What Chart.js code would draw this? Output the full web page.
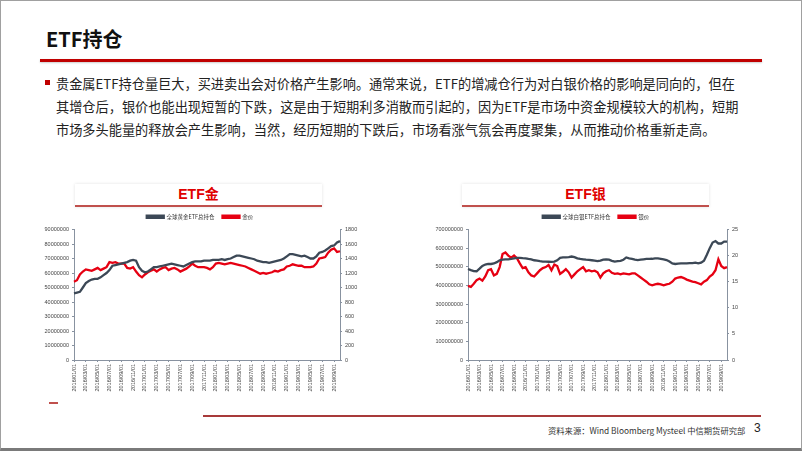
<!DOCTYPE html>
<html>
<head>
<meta charset="utf-8">
<script src="https://cdn.jsdelivr.net/npm/chart.js@4.4.0/dist/chart.umd.min.js"></script>
<style>
  body { margin: 0; width: 802px; height: 451px; position: relative; overflow: hidden; background: #fff;
         font-family: "Noto Sans CJK SC", sans-serif; }
  .frame { position: absolute; left: 0; top: 0; width: 800px; height: 447px;
           border: 1px solid #a0a0a0; border-bottom: 3px solid #7a7a7a; }
  .title { position: absolute; left: 46px; top: 24px; font-size: 20px; font-weight: bold; color: #111; }
  .titleLine { position: absolute; left: 40px; top: 59px; width: 722px; height: 3px; background: #c00000;
               box-shadow: 0 1px 2px rgba(0,0,0,0.2); }
  .bullet { position: absolute; left: 45px; top: 80px; width: 5px; height: 5px; background: #c00000; }
  .para { position: absolute; left: 56px; top: 72px; font-size: 13.2px; line-height: 23px; color: #222; white-space: nowrap; }
  .sub { position: absolute; top: 184px; width: 247px; height: 21px; border-bottom: 2px solid #c0504d;
         box-shadow: 0 0 3px rgba(0,0,0,0.12); text-align: center; font-family: "Liberation Sans", "Noto Sans CJK SC", sans-serif;
         font-weight: bold; font-size: 14px; line-height: 21px; color: #e00000; }
  .dash { position: absolute; left: 49px; top: 402px; width: 9px; height: 2px; background: #c0504d; }
  .footLine { position: absolute; left: 203px; top: 415px; width: 558px; height: 2px; background: #a83a3a; }
  .src { position: absolute; left: 548px; top: 424px; font-size: 8.3px; color: #333; white-space: nowrap; }
  .page { position: absolute; left: 754px; top: 421px; font-size: 12px; color: #222; font-family: "Liberation Sans", sans-serif; }
  canvas { position: absolute; }
</style>
</head>
<body>
<div class="frame"></div>
<div class="title">ETF持仓</div>
<div class="titleLine"></div>
<div class="bullet"></div>
<div class="para">
  <div>贵金属ETF持仓量巨大，买进卖出会对价格产生影响。通常来说，ETF的增减仓行为对白银价格的影响是同向的，但在</div>
  <div>其增仓后，银价也能出现短暂的下跌，这是由于短期利多消散而引起的，因为ETF是市场中资金规模较大的机构，短期</div>
  <div>市场多头能量的释放会产生影响，当然，经历短期的下跌后，市场看涨气氛会再度聚集，从而推动价格重新走高。</div>
</div>
<div class="sub" style="left:75px">ETF金</div>
<div class="sub" style="left:462px">ETF银</div>
<canvas id="goldChart" width="360" height="194" style="left:20px; top:211px"></canvas>
<canvas id="silverChart" width="362" height="194" style="left:415px; top:211px"></canvas>
<div class="dash"></div>
<div class="footLine"></div>
<div class="src">资料来源：Wind Bloomberg Mysteel 中信期货研究部</div>
<div class="page">3</div>

<script>
// semi-monthly dates, 2016/01/01 .. 2019/10/01
let labels = [];
for (let y = 2016; y <= 2019; y++) {
  for (let m = 1; m <= 12; m++) {
    if (y === 2019 && m > 10) break;
    let mm = (m < 10 ? "0" : "") + m;
    labels.push(y + "/" + mm + "/01");
    if (!(y === 2019 && m === 10)) labels.push(y + "/" + mm + "/16");
  }
}

// 全球黄金ETF总持仓 (oz)
let goldEtf = [
  46e6, 46.5e6, 47e6, 50e6, 53e6, 54.5e6, 55.5e6, 56e6, 56e6, 57e6, 58.5e6, 60e6,
  62e6, 65e6, 65.5e6, 66e6, 66.5e6, 67e6, 67.5e6, 68.5e6, 69e6, 68.5e6, 64e6, 61.5e6,
  60.5e6, 61e6, 62.5e6, 64e6, 64e6, 64.5e6, 65e6, 65.5e6, 66e6, 66.5e6, 66e6, 65.5e6,
  65e6, 64.5e6, 65.5e6, 66.5e6, 67.5e6, 68e6, 68e6, 68e6, 68.5e6, 68.5e6, 68.5e6, 69e6,
  69e6, 69e6, 69.5e6, 69e6, 69.5e6, 70e6, 71e6, 72e6, 72e6, 71.5e6, 71e6, 70.5e6,
  70e6, 69.5e6, 68.5e6, 68e6, 67.5e6, 67.5e6, 67e6, 67.5e6, 68e6, 68.5e6, 69e6, 70e6,
  71.5e6, 73e6, 73e6, 72.5e6, 72e6, 71.5e6, 72e6, 71e6, 70e6, 70e6, 71.5e6, 74e6,
  74.5e6, 75.5e6, 77e6, 78.5e6, 79e6, 81e6, 82e6
];
// 金价 (USD/oz)
let goldPrice = [
  1080, 1100, 1180, 1220, 1250, 1240, 1230, 1250, 1270, 1240, 1260, 1280,
  1350, 1340, 1350, 1330, 1330, 1330, 1270, 1260, 1280, 1220, 1170, 1140,
  1180, 1210, 1230, 1250, 1220, 1250, 1270, 1280, 1240, 1260, 1270, 1250,
  1220, 1240, 1260, 1290, 1330, 1300, 1280, 1280, 1280, 1270, 1250, 1280,
  1330, 1340, 1330, 1320, 1330, 1340, 1330, 1320, 1310, 1300, 1290, 1270,
  1250, 1230, 1210, 1190, 1200, 1190, 1200, 1210, 1230, 1220, 1240, 1250,
  1290, 1300, 1320, 1310, 1300, 1300, 1280, 1280, 1280, 1290, 1330, 1400,
  1410, 1420, 1480, 1520, 1540, 1490, 1500
];
// 全球白银ETF总持仓 (oz)
let silverEtf = [
  488e6, 482e6, 477e6, 476e6, 490e6, 505e6, 512e6, 515e6, 515e6, 518e6, 525e6, 535e6,
  538e6, 540e6, 540e6, 542e6, 545e6, 548e6, 548e6, 546e6, 545e6, 542e6, 540e6, 535e6,
  533e6, 530e6, 528e6, 528e6, 527e6, 526e6, 528e6, 535e6, 548e6, 550e6, 550e6, 552e6,
  555e6, 552e6, 545e6, 542e6, 540e6, 538e6, 537e6, 535e6, 533e6, 530e6, 533e6, 538e6,
  540e6, 538e6, 532e6, 528e6, 530e6, 532e6, 538e6, 550e6, 545e6, 542e6, 538e6, 536e6,
  538e6, 540e6, 542e6, 542e6, 543e6, 545e6, 545e6, 543e6, 540e6, 536e6, 528e6, 518e6,
  515e6, 517e6, 518e6, 518e6, 518e6, 520e6, 520e6, 522e6, 518e6, 522e6, 532e6, 565e6,
  600e6, 630e6, 638e6, 625e6, 625e6, 635e6, 635e6
];
// 银价 (USD/oz)
let silverPrice = [
  14.2, 14.0, 14.6, 15.3, 15.6, 15.2, 16.0, 17.2, 17.4, 16.2, 16.5, 17.8,
  20.3, 20.6, 20.0, 19.6, 20.0, 19.5, 18.5, 17.6, 17.8, 16.8, 16.2, 16.0,
  16.6, 17.2, 17.6, 17.8, 18.2, 17.2, 18.3, 18.0, 16.5, 16.9, 17.4, 16.8,
  15.8, 16.4, 17.0, 17.4, 17.8, 17.0, 17.2, 17.0, 17.1, 16.8, 15.8, 16.6,
  17.0, 17.2, 16.7, 16.5, 16.6, 16.4, 16.6, 16.5, 16.4, 16.6, 16.6, 16.2,
  15.8, 15.4, 15.0, 14.5, 14.3, 14.5, 14.6, 14.5, 14.3, 14.5, 14.6, 15.0,
  15.6, 15.8, 15.9, 15.7, 15.4, 15.2, 15.0, 14.9, 14.7, 14.5, 15.0, 15.3,
  16.0, 16.4, 17.2, 19.3, 18.0, 17.6, 17.8
];

let darkColor = "#3c4856";
let redColor = "#e60012";
let tickFont = { family: "Liberation Sans", size: 5.5 };
let plainNumber = function (val) { return String(val); };

// default legend items, with a little extra space after the first entry
function spacedLegend(chart) {
  let items = Chart.defaults.plugins.legend.labels.generateLabels(chart);
  items[0].text = items[0].text + "    ";
  return items;
}

function makeChart(id, etfLabel, priceLabel, etfData, priceData, leftMax, leftStep, rightMax, rightStep, leftW, rightW) {
  let ctx = document.getElementById(id).getContext("2d");
  return new Chart(ctx, {
    type: "line",
    data: {
      labels: labels,
      datasets: [
        { label: etfLabel, data: etfData, yAxisID: "y", borderColor: darkColor, backgroundColor: darkColor,
          borderWidth: 2.3, pointRadius: 0, tension: 0 },
        { label: priceLabel, data: priceData, yAxisID: "y1", borderColor: redColor, backgroundColor: redColor,
          borderWidth: 2.3, pointRadius: 0, tension: 0 }
      ]
    },
    options: {
      responsive: false,
      animation: false,
      layout: { padding: 0 },
      plugins: {
        tooltip: { enabled: false },
        legend: {
          position: "top",
          labels: { boxWidth: 17, boxHeight: 2, padding: 3, color: "#333", generateLabels: spacedLegend,
                    font: { family: "Noto Sans CJK SC", size: 5.5 } }
        }
      },
      scales: {
        x: {
          offset: false,
          grid: { drawOnChartArea: false, drawTicks: true, tickLength: 2, color: "#8892a0" },
          border: { color: "#8892a0" },
          ticks: {
            autoSkip: false, minRotation: 90, maxRotation: 90, padding: 2, color: "#444", font: tickFont,
            callback: function (val, i) { return i % 4 === 0 ? labels[i] : null; }
          },
          afterFit: function (scale) { scale.height = 45; }
        },
        y: {
          position: "left", min: 0, max: leftMax,
          grid: { drawOnChartArea: false, tickLength: 2, color: "#8892a0" },
          border: { color: "#8892a0" },
          ticks: { stepSize: leftStep, padding: 3, color: "#444", font: tickFont, callback: plainNumber },
          afterFit: function (scale) { scale.width = leftW; }
        },
        y1: {
          position: "right", min: 0, max: rightMax,
          grid: { drawOnChartArea: false, tickLength: 2, color: "#8892a0" },
          border: { color: "#8892a0" },
          ticks: { stepSize: rightStep, padding: 3, color: "#444", font: tickFont, callback: plainNumber },
          afterFit: function (scale) { scale.width = rightW; }
        }
      }
    }
  });
}

let goldChart = makeChart("goldChart", "全球黄金ETF总持仓", "金价", goldEtf, goldPrice, 90000000, 10000000, 1800, 200, 54, 40);
let silverChart = makeChart("silverChart", "全球白银ETF总持仓", "银价", silverEtf, silverPrice, 700000000, 100000000, 25, 5, 53, 50);
</script>
</body>
</html>
